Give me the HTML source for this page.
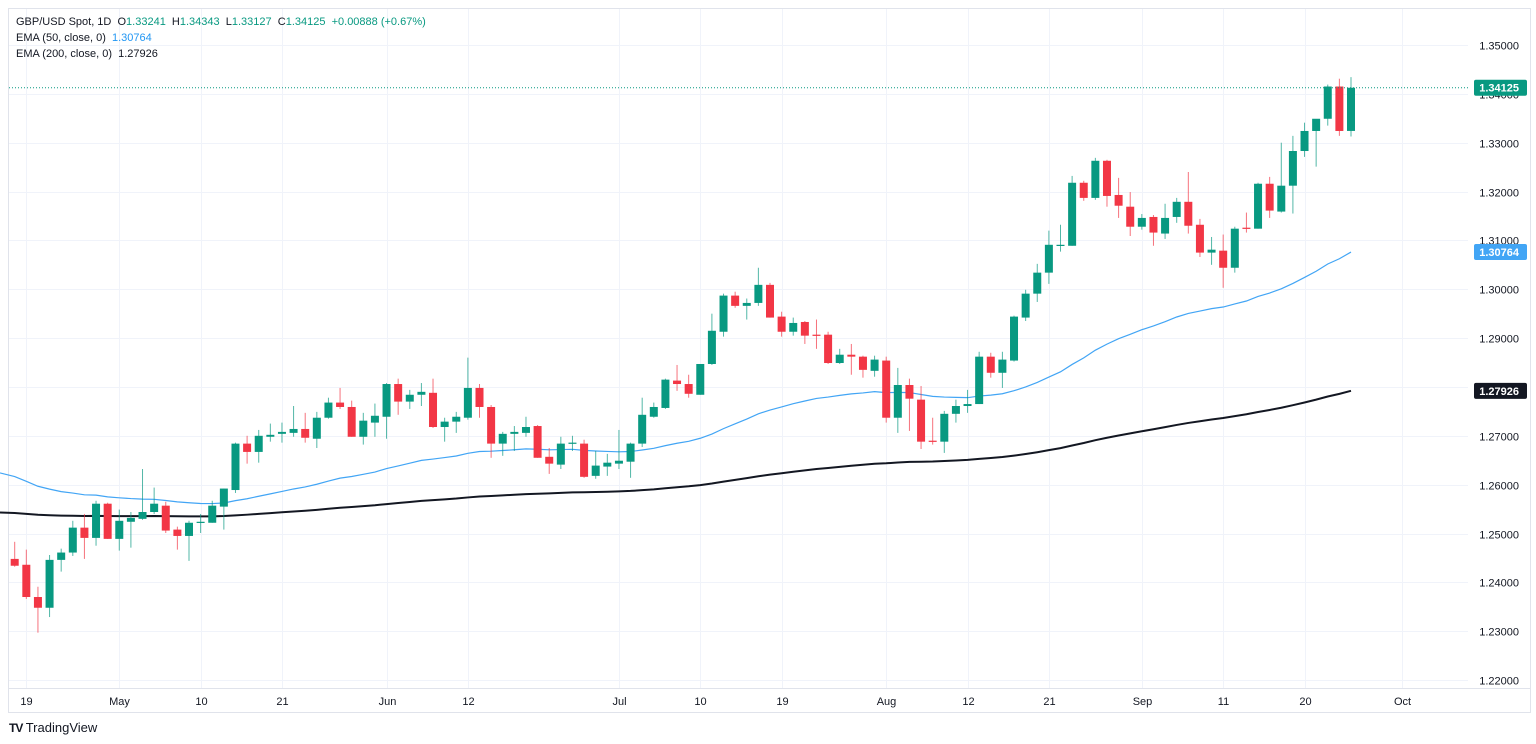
<!DOCTYPE html>
<html><head><meta charset="utf-8"><style>
html,body{margin:0;padding:0;background:#fff;}
body{width:1536px;height:744px;overflow:hidden;font-family:"Liberation Sans",sans-serif;}
svg{position:absolute;left:0;top:0;}
</style></head><body>
<svg id="chart" width="1536" height="744" xmlns="http://www.w3.org/2000/svg"></svg>
<script>
const opens=[1.2448,1.2436,1.2370,1.2348,1.2446,1.2461,1.2512,1.2491,1.2561,1.2489,1.2524,1.2530,1.2544,1.2557,1.2508,1.2495,1.2522,1.2522,1.2555,1.2589,1.2684,1.2667,1.2698,1.2704,1.2706,1.2714,1.2694,1.2737,1.2768,1.2759,1.2698,1.2727,1.2739,1.2806,1.2770,1.2784,1.2788,1.2718,1.2729,1.2737,1.2798,1.2759,1.2684,1.2704,1.2706,1.2720,1.2657,1.2641,1.2684,1.2684,1.2618,1.2637,1.2643,1.2647,1.2684,1.2739,1.2757,1.2813,1.2806,1.2784,1.2847,1.2913,1.2987,1.2966,1.2972,1.3009,1.2944,1.2913,1.2933,1.2907,1.2907,1.2849,1.2866,1.2862,1.2833,1.2854,1.2737,1.2804,1.2774,1.2690,1.2688,1.2745,1.2761,1.2765,1.2862,1.2829,1.2854,1.2942,1.2991,1.3034,1.3089,1.3089,1.3218,1.3187,1.3263,1.3193,1.3169,1.3128,1.3148,1.3114,1.3148,1.3179,1.3132,1.3075,1.3079,1.3044,1.3126,1.3124,1.3216,1.3159,1.3212,1.3283,1.3324,1.3349,1.3415,1.33241];
const highs=[1.2483,1.2467,1.2391,1.2456,1.2469,1.2526,1.2540,1.2567,1.2563,1.2549,1.2544,1.2632,1.2594,1.2565,1.2514,1.2526,1.2540,1.2567,1.2592,1.2686,1.2700,1.2712,1.2725,1.2727,1.2761,1.2747,1.2749,1.2778,1.2798,1.2772,1.2747,1.2766,1.2808,1.2817,1.2794,1.2808,1.2817,1.2737,1.2749,1.2860,1.2806,1.2763,1.2708,1.2720,1.2739,1.2722,1.2675,1.2698,1.2700,1.2692,1.2669,1.2663,1.2712,1.2686,1.2778,1.2768,1.2817,1.2845,1.2825,1.2847,1.2950,1.2991,1.2995,1.2981,1.3044,1.3013,1.2954,1.2942,1.2935,1.2938,1.2913,1.2878,1.2888,1.2864,1.2864,1.2862,1.2839,1.2817,1.2802,1.2737,1.2751,1.2774,1.2794,1.2872,1.2870,1.2872,1.2946,1.2999,1.3052,1.3120,1.3132,1.3232,1.3222,1.3269,1.3265,1.3228,1.3199,1.3154,1.3152,1.3175,1.3187,1.3240,1.3144,1.3107,1.3112,1.3128,1.3157,1.3218,1.3230,1.3300,1.3314,1.3341,1.3345,1.3419,1.3431,1.34343];
const lows=[1.2432,1.2366,1.2297,1.2329,1.2422,1.2454,1.2448,1.2475,1.2489,1.2465,1.2471,1.2528,1.2540,1.2501,1.2467,1.2444,1.2501,1.2522,1.2508,1.2583,1.2643,1.2645,1.2688,1.2686,1.2698,1.2686,1.2675,1.2735,1.2755,1.2698,1.2682,1.2698,1.2694,1.2743,1.2755,1.2761,1.2716,1.2688,1.2706,1.2733,1.2737,1.2655,1.2659,1.2669,1.2698,1.2655,1.2622,1.2632,1.2669,1.2614,1.2612,1.2618,1.2632,1.2614,1.2677,1.2737,1.2755,1.2792,1.2778,1.2784,1.2845,1.2903,1.2962,1.2938,1.2966,1.2942,1.2903,1.2905,1.2888,1.2878,1.2847,1.2847,1.2825,1.2819,1.2821,1.2727,1.2706,1.2710,1.2673,1.2682,1.2665,1.2727,1.2747,1.2765,1.2819,1.2798,1.2852,1.2935,1.2974,1.3011,1.3077,1.3089,1.3181,1.3183,1.3169,1.3146,1.3109,1.3122,1.3089,1.3103,1.3136,1.3114,1.3066,1.3050,1.3003,1.3034,1.3116,1.3124,1.3146,1.3157,1.3155,1.3271,1.3251,1.3335,1.3314,1.33127];
const closes=[1.2434,1.2370,1.2348,1.2446,1.2461,1.2512,1.2491,1.2561,1.2489,1.2526,1.2532,1.2544,1.2561,1.2506,1.2495,1.2522,1.2524,1.2557,1.2592,1.2684,1.2667,1.2700,1.2702,1.2708,1.2714,1.2696,1.2737,1.2768,1.2759,1.2698,1.2731,1.2741,1.2806,1.2770,1.2784,1.2790,1.2718,1.2729,1.2739,1.2798,1.2759,1.2684,1.2704,1.2708,1.2718,1.2655,1.2643,1.2684,1.2686,1.2616,1.2639,1.2645,1.2649,1.2684,1.2743,1.2759,1.2815,1.2806,1.2786,1.2847,1.2915,1.2987,1.2966,1.2972,1.3009,1.2942,1.2913,1.2931,1.2905,1.2905,1.2849,1.2866,1.2862,1.2835,1.2856,1.2737,1.2804,1.2776,1.2688,1.2688,1.2745,1.2761,1.2765,1.2862,1.2829,1.2856,1.2944,1.2991,1.3034,1.3091,1.3091,1.3218,1.3187,1.3263,1.3191,1.3171,1.3128,1.3146,1.3116,1.3146,1.3179,1.3130,1.3075,1.3081,1.3044,1.3124,1.3124,1.3216,1.3161,1.3212,1.3283,1.3324,1.3349,1.3415,1.3324,1.34125];
const priceTicks=[1.22,1.23,1.24,1.25,1.26,1.27,1.28,1.29,1.30,1.31,1.32,1.33,1.34,1.35];
const timeLabels=["19","May","10","21","Jun","12","Jul","10","19","Aug","12","21","Sep","11","20","Oct"];
const timeIdx=[1,9,16,23,32,39,52,59,66,75,82,89,97,104,111,119.4];
const ema50Seed=1.2624, ema200Seed=1.2543;
const emaLabels=[1.30764,1.27926];

const NS="http://www.w3.org/2000/svg";
const svg=document.getElementById('chart');
const X0=14.7, DX=11.62;
function xs(i){return X0+i*DX;}
function ys(p){return 45+(1.35-p)/0.01*48.85;}
function mk(tag,attrs,parent){const e=document.createElementNS(NS,tag);for(const k in attrs)e.setAttribute(k,attrs[k]);(parent||svg).appendChild(e);return e;}

const frame=mk('rect',{x:8.5,y:8.5,width:1522,height:704,fill:'none',stroke:'#e0e3eb'});


const axisLine=mk('line',{x1:8,x2:1531,y1:688.5,y2:688.5,stroke:'#e0e3eb'});



priceTicks.forEach(p=>{
  const y=Math.round(ys(p))+0.5;
  const g=mk('line',{x1:9,x2:1468,y1:y,y2:y,stroke:'#f0f3fa'});
  
  
  const t=mk('text',{x:1519,y:y+4,'text-anchor':'end','font-size':'11','fill':'#131722'});
  t.textContent=p.toFixed(5);
  
  
});
timeLabels.forEach((l,k)=>{
  const x=Math.round(xs(timeIdx[k]))+0.5;
  const g=mk('line',{x1:x,x2:x,y1:9,y2:688,stroke:'#f0f3fa'});
  
  
  const t=mk('text',{x:x,y:705,'text-anchor':'middle','font-size':'11','fill':'#131722'});
  t.textContent=l;
  
  
});

let e50=ema50Seed,e200=ema200Seed,p50=[],p200=[];
p50.push([0,ys(e50)]);p200.push([0,ys(e200)]);
closes.forEach((c,i)=>{e50=e50+(c-e50)*2/51;e200=e200+(c-e200)*2/201;p50.push([xs(i),ys(e50)]);p200.push([xs(i),ys(e200)]);});
const l200=mk('polyline',{points:p200.map(p=>p.join(',')).join(' '),fill:'none',stroke:'#131722','stroke-width':2});


const l50=mk('polyline',{points:p50.map(p=>p.join(',')).join(' '),fill:'none',stroke:'#42a5f5','stroke-width':1.2});



closes.forEach((c,i)=>{
  const o=opens[i],h=highs[i],l=lows[i];
  const up=c>=o, col=up?'#089981':'#f23645';
  const x=xs(i);
  const g=mk('g',{});
  
  
  mk('line',{x1:x,x2:x,y1:ys(h),y2:ys(l),stroke:col,'stroke-width':1,'stroke-opacity':0.7},g);
  const top=ys(Math.max(o,c)),bot=ys(Math.min(o,c));
  mk('rect',{x:x-4,y:top,width:8,height:Math.max(1.2,bot-top),fill:col},g);
});

const last=closes[closes.length-1];
const ly=ys(last);
const pl=mk('line',{x1:9,x2:1468,y1:ly,y2:ly,stroke:'#089981','stroke-dasharray':'1,2'});


function tag(val,yv,bg,name){
  const y=ys(yv);
  const r=mk('rect',{x:1474,y:y-8,width:53,height:16,rx:2,fill:bg});
  
  
  const t=mk('text',{x:1519,y:y+4,'text-anchor':'end','font-size':'11','font-weight':'bold',fill:'#fff'});
  t.textContent=val.toFixed(5);
  
  
}
tag(last,last,'#089981','last-price-label');
tag(emaLabels[0],e50,'#42a5f5','ema-50-label');
tag(emaLabels[1],e200,'#131722','ema-200-label');
</script>
<div style="position:absolute;left:16px;top:14px;font-size:11px;line-height:16px;color:#131722;">
<div>GBP/USD Spot, 1D &nbsp;O<span style="color:#089981">1.33241</span> &nbsp;H<span style="color:#089981">1.34343</span> &nbsp;L<span style="color:#089981">1.33127</span> &nbsp;C<span style="color:#089981">1.34125</span> &nbsp;<span style="color:#089981">+0.00888 (+0.67%)</span></div>
<div>EMA (50, close, 0) &nbsp;<span style="color:#2196f3">1.30764</span></div>
<div>EMA (200, close, 0) &nbsp;1.27926</div>
</div>
<div style="position:absolute;left:9px;top:720px;font-size:13px;color:#131722;"><b style="font-size:12px;letter-spacing:-1px">TV</b> TradingView</div>
</body></html>
